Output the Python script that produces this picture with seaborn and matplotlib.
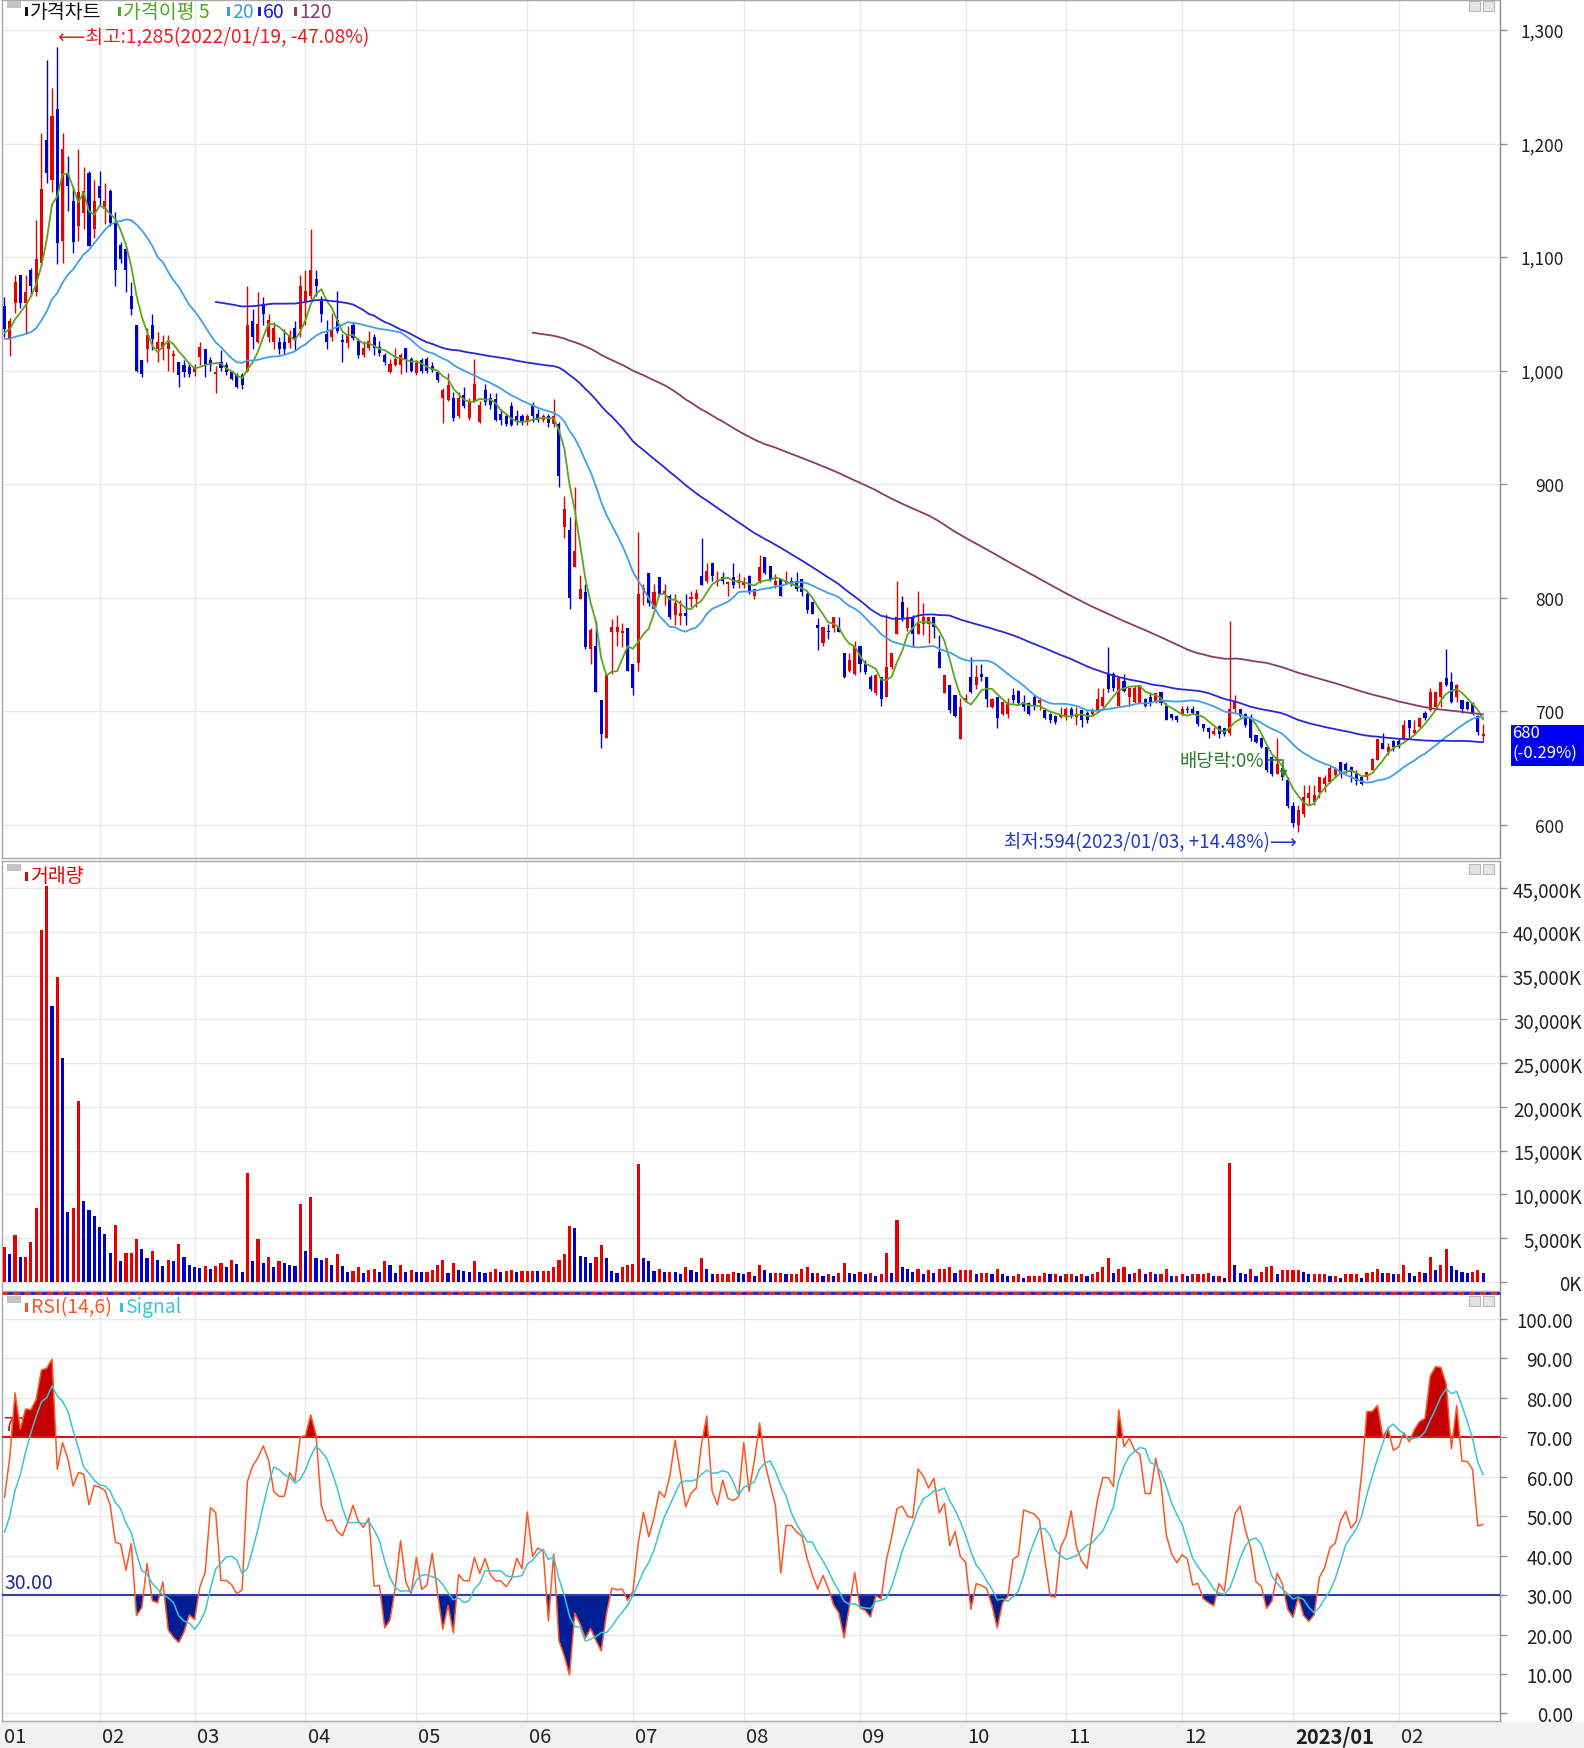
import numpy as np
import pandas as pd
import matplotlib
matplotlib.use("Agg")
import matplotlib.pyplot as plt
import matplotlib.transforms as mtransforms
from matplotlib.patches import Rectangle
import seaborn as sns

# ------------------------------------------------------------------ data
# closes of the 19 sessions before the visible window (estimated from the 20-day average)
prior_closes = [1045, 1040, 1038, 1042, 1041, 1030, 1022, 1015, 1010, 1005,
                1012, 1020, 1018, 1025, 1030, 1028, 1035, 1030, 1037]

opens = [
    1057, 1028, 1060, 1084, 1060, 1089, 1069, 1095, 1203, 1168, 1230, 1114, 1174, 1149, 1127, 1139, 1174, 1125, 1163, 1142,
    1158, 1130, 1111, 1107, 1066, 1040, 1009, 1019, 1040, 1019, 1019, 1019, 1013, 1008, 1005, 1003, 999, 1012, 1019, 1009,
    997, 1008, 1005, 999, 996, 996, 1000, 1044, 1025, 1059, 1030, 1025, 1025, 1025, 1024, 1038, 1037, 1060, 1066, 1081,
    1062, 1032, 1030, 1045, 1027, 1024, 1040, 1026, 1014, 1020, 1030, 1021, 1014, 999, 1005, 1005, 1020, 1010, 998, 1009,
    1010, 1004, 999, 976, 974, 976, 960, 979, 958, 973, 955, 983, 976, 975, 962, 960, 969, 960, 960, 956,
    970, 962, 957, 960, 953, 953, 862, 860, 827, 799, 805, 755, 758, 710, 677, 770, 770, 769, 773, 742,
    743, 807, 822, 790, 818, 803, 802, 785, 784, 787, 799, 799, 819, 815, 831, 814, 818, 812, 818, 813,
    811, 819, 802, 815, 836, 828, 811, 817, 812, 815, 815, 817, 803, 796, 776, 760, 771, 773, 774, 751,
    736, 733, 758, 742, 730, 716, 730, 713, 739, 768, 796, 773, 783, 768, 777, 777, 783, 752, 716, 723,
    714, 676, 710, 730, 723, 733, 730, 704, 713, 698, 698, 714, 718, 708, 707, 713, 707, 701, 698, 696,
    695, 696, 702, 695, 701, 699, 698, 701, 705, 733, 733, 705, 727, 713, 708, 707, 711, 713, 708, 717,
    705, 698, 696, 698, 702, 702, 700, 689, 685, 680, 687, 685, 681, 702, 702, 698, 693, 679, 677, 669,
    660, 645, 650, 640, 617, 600, 610, 624, 620, 629, 636, 638, 644, 655, 654, 651, 645, 642, 642, 648,
    657, 672, 664, 674, 674, 676, 692, 681, 686, 699, 701, 704, 713, 729, 726, 713, 710, 708, 707, 696, 678]

highs = [
    1065, 1046, 1084, 1084, 1084, 1090, 1133, 1209, 1274, 1249, 1285, 1209, 1189, 1163, 1195, 1179, 1176, 1168, 1176, 1165,
    1160, 1140, 1113, 1108, 1078, 1040, 1009, 1038, 1050, 1034, 1031, 1031, 1018, 1008, 1009, 1008, 1006, 1025, 1019, 1012,
    1004, 1018, 1008, 1000, 998, 998, 1075, 1054, 1069, 1065, 1050, 1043, 1030, 1037, 1036, 1044, 1084, 1089, 1125, 1089,
    1066, 1045, 1051, 1070, 1032, 1039, 1043, 1029, 1026, 1035, 1032, 1026, 1016, 1010, 1020, 1016, 1020, 1012, 1009, 1011,
    1012, 1008, 1000, 985, 998, 981, 981, 986, 976, 1010, 973, 988, 980, 980, 966, 962, 972, 965, 962, 962,
    972, 966, 962, 962, 975, 955, 890, 871, 898, 820, 812, 773, 780, 710, 732, 781, 785, 778, 773, 742,
    858, 812, 822, 812, 818, 812, 803, 803, 798, 803, 806, 808, 853, 831, 831, 824, 823, 815, 831, 822,
    818, 820, 808, 838, 836, 828, 821, 817, 824, 818, 823, 817, 805, 796, 782, 774, 777, 783, 783, 751,
    751, 762, 758, 745, 732, 733, 730, 786, 751, 815, 802, 792, 785, 806, 795, 783, 783, 767, 732, 723,
    714, 712, 715, 748, 741, 742, 730, 712, 713, 709, 712, 721, 719, 714, 708, 714, 713, 703, 699, 697,
    704, 704, 704, 704, 701, 700, 703, 721, 721, 757, 735, 729, 733, 721, 723, 723, 712, 717, 717, 717,
    707, 698, 697, 705, 705, 705, 700, 689, 686, 686, 688, 685, 780, 714, 702, 699, 698, 679, 677, 669,
    661, 677, 650, 642, 620, 618, 635, 635, 635, 642, 644, 653, 651, 655, 655, 652, 648, 642, 647, 659,
    676, 681, 672, 675, 676, 692, 692, 692, 695, 700, 721, 718, 726, 755, 735, 724, 710, 709, 708, 697, 689]

lows = [
    1030, 1013, 1051, 1055, 1032, 1066, 1066, 1092, 1165, 1157, 1094, 1095, 1141, 1104, 1114, 1125, 1110, 1117, 1145, 1129,
    1127, 1075, 1095, 1069, 1049, 999, 994, 1008, 1018, 1008, 1009, 1000, 999, 986, 994, 994, 995, 1005, 994, 1000,
    980, 1000, 996, 992, 985, 984, 999, 1019, 1024, 1040, 1025, 1019, 1015, 1015, 1020, 1018, 1030, 1040, 1063, 1066,
    1043, 1019, 1026, 1033, 1008, 1020, 1027, 1011, 1012, 1018, 1014, 1013, 1005, 998, 1004, 997, 999, 999, 996, 998,
    998, 999, 990, 954, 973, 956, 958, 967, 957, 972, 954, 970, 966, 956, 952, 951, 951, 952, 952, 952,
    955, 955, 955, 950, 950, 898, 853, 790, 827, 799, 755, 742, 717, 668, 677, 733, 758, 757, 736, 714,
    736, 794, 793, 790, 802, 794, 781, 776, 776, 776, 792, 792, 811, 813, 815, 810, 812, 802, 809, 809,
    809, 803, 799, 813, 821, 815, 809, 802, 812, 810, 806, 802, 787, 786, 754, 758, 764, 770, 770, 729,
    735, 732, 735, 733, 718, 714, 705, 713, 737, 768, 780, 771, 757, 768, 767, 760, 765, 738, 716, 699,
    695, 676, 708, 716, 720, 727, 704, 703, 685, 697, 694, 707, 706, 700, 697, 701, 701, 693, 690, 689,
    694, 692, 694, 688, 686, 690, 696, 700, 702, 717, 718, 705, 717, 705, 707, 707, 704, 705, 707, 706,
    692, 692, 691, 697, 699, 698, 687, 683, 677, 679, 677, 678, 679, 699, 695, 686, 674, 672, 668, 647,
    643, 645, 640, 615, 598, 594, 607, 618, 618, 624, 629, 637, 642, 641, 646, 638, 635, 635, 640, 648,
    657, 667, 662, 665, 668, 675, 676, 680, 685, 692, 700, 703, 704, 722, 707, 708, 699, 701, 697, 679, 674]

closes = [
    1037, 1044, 1078, 1060, 1069, 1075, 1098, 1160, 1174, 1224, 1112, 1195, 1163, 1113, 1157, 1158, 1110, 1149, 1152, 1149,
    1130, 1089, 1098, 1089, 1054, 1000, 997, 1031, 1028, 1025, 1025, 1024, 1015, 996, 999, 997, 1003, 1021, 1005, 1005,
    999, 1002, 999, 993, 986, 987, 1040, 1030, 1041, 1050, 1045, 1038, 1019, 1019, 1031, 1028, 1075, 1070, 1089, 1075,
    1050, 1025, 1037, 1035, 1025, 1032, 1029, 1014, 1020, 1026, 1020, 1016, 1008, 1006, 1010, 1014, 1010, 1000, 1007, 1000,
    1000, 1001, 992, 983, 987, 958, 976, 969, 973, 988, 970, 972, 970, 957, 957, 953, 952, 957, 955, 960,
    960, 957, 960, 954, 960, 907, 878, 800, 841, 808, 757, 772, 717, 680, 732, 774, 774, 771, 736, 721,
    803, 809, 795, 805, 803, 806, 783, 795, 787, 784, 801, 804, 811, 824, 819, 816, 815, 814, 811, 816,
    814, 805, 808, 827, 822, 817, 815, 802, 815, 812, 808, 805, 789, 786, 773, 774, 770, 783, 770, 730,
    745, 758, 742, 735, 720, 732, 711, 739, 751, 783, 782, 783, 768, 777, 783, 783, 774, 738, 732, 701,
    696, 704, 712, 717, 730, 730, 711, 711, 694, 708, 708, 710, 707, 704, 698, 705, 710, 694, 692, 691,
    698, 702, 696, 698, 692, 692, 701, 711, 713, 720, 721, 729, 718, 721, 721, 723, 705, 707, 716, 707,
    692, 694, 692, 702, 701, 699, 689, 685, 682, 683, 680, 680, 702, 708, 696, 688, 677, 673, 669, 648,
    645, 654, 642, 617, 602, 613, 625, 628, 626, 642, 641, 650, 650, 645, 648, 647, 639, 636, 647, 658,
    676, 667, 669, 669, 669, 688, 685, 684, 694, 694, 717, 717, 726, 723, 708, 723, 702, 702, 698, 682, 680]

volumes_k = [
    4033, 3174, 5414, 2875, 2875, 4555, 8401, 40216, 45181, 31552, 34800, 25578, 8028, 8401, 20649, 9223, 8215, 7543, 6236, 5526,
    3360, 6535, 2352, 3360, 3360, 4854, 3734, 2726, 3547, 2502, 1867, 2502, 2352, 4369, 2875, 1979, 1680, 1650, 1867, 1494,
    1867, 2166, 1680, 2502, 2054, 1195, 12434, 2352, 4854, 2166, 2875, 1680, 2352, 2166, 1979, 1867, 8887, 3547, 9708, 2726,
    2502, 2726, 1979, 3174, 1867, 1195, 1307, 1680, 1008, 1419, 1494, 1195, 2352, 1979, 1008, 1979, 1195, 1382, 1195, 1150,
    1195, 1382, 1979, 2502, 1008, 2166, 1382, 1300, 1195, 2352, 1195, 1008, 1195, 1494, 1195, 1250, 1382, 1195, 1250, 1250,
    1250, 1200, 1250, 1250, 1680, 2502, 3174, 6348, 6200, 3000, 2800, 2166, 2800, 4200, 2726, 1307, 1008, 1700, 1979, 2000,
    13442, 2726, 2352, 1300, 1494, 1195, 1195, 1120, 934, 1680, 1382, 1195, 2726, 1494, 859, 859, 859, 859, 1195, 1008,
    859, 1195, 635, 1979, 1382, 1000, 1008, 1008, 859, 859, 859, 1494, 1680, 1008, 1008, 635, 859, 635, 1008, 2166,
    1008, 859, 1195, 859, 1008, 635, 859, 3360, 1008, 7095, 1680, 1494, 1195, 1494, 859, 1382, 1008, 1494, 1494, 1680,
    1008, 1382, 1382, 1382, 859, 1008, 1008, 859, 1494, 859, 635, 635, 859, 448, 635, 635, 635, 1008, 859, 859,
    635, 859, 859, 635, 859, 635, 859, 1195, 1680, 2726, 1008, 1494, 1680, 859, 1008, 1494, 859, 1195, 859, 859,
    1494, 635, 635, 859, 635, 859, 859, 859, 1008, 635, 635, 448, 13629, 1979, 1008, 859, 1494, 635, 1195, 1680,
    1867, 859, 1382, 1382, 1382, 1382, 1195, 859, 859, 859, 859, 635, 635, 448, 859, 859, 859, 448, 1008, 1195,
    1494, 1008, 1008, 859, 859, 1979, 1008, 635, 1195, 1008, 2875, 1382, 1979, 3734, 1867, 1382, 1195, 1008, 1195, 1382, 1008]

month_labels = ["01", "02", "03", "04", "05", "06", "07", "08", "09", "10", "11", "12", "2023/01", "02"]
month_trading_days = [18, 18, 21, 21, 21, 20, 21, 22, 20, 19, 22, 21, 20, 17]   # visible sessions per month
price_ticks = [600, 700, 800, 900, 1000, 1100, 1200, 1300]
volume_ticks = [0, 5000, 10000, 15000, 20000, 25000, 30000, 35000, 40000, 45000]
rsi_ticks = [0, 10, 20, 30, 40, 50, 60, 70, 80, 90, 100]
ma_windows = [5, 20, 60, 120]
high_date = "2022/01/19"
low_date = "2023/01/03"
dividend_idx = 242

# ------------------------------------------------------------------ style
sns.set_theme(style="white")
plt.rcParams["font.family"] = ["Noto Sans CJK KR", "DejaVu Sans"]

RED, BLUE = "#e60000", "#0000cd"
MA_COLORS = {5: "#5aa818", 20: "#3fa0e8", 60: "#2828d8", 120: "#8a3a6c"}
GRID = "#e8e8e8"
SPINE = "#a8a8a8"

W, H = 1584, 1749
fig = plt.figure(figsize=(W / 100, H / 100), dpi=100)
fig.patch.set_facecolor("white")


def add_ax(l, t, r, b):
    return fig.add_axes([l / W, 1 - b / H, (r - l) / W, (b - t) / H])


ax1 = add_ax(2, 1, 1500, 859)
ax2 = add_ax(2, 862, 1500, 1292)
ax3 = add_ax(2, 1294, 1500, 1722)

n = len(closes)
x = np.arange(n)
O, Hh, L, C = map(np.asarray, (opens, highs, lows, closes))
V = np.asarray(volumes_k, dtype=float)

full_close = pd.Series(prior_closes + closes, dtype=float)
k0 = len(prior_closes)

month_starts = np.concatenate([[0], np.cumsum(month_trading_days)[:-1]])
xlim = (-0.47, 283.2)

# ------------------------------------------------------------------ price panel
up = C >= O
ccol = np.where(up, RED, BLUE)
ax1.vlines(x, L, Hh, colors=ccol, linewidth=1.0, zorder=3)
body = np.maximum(np.abs(C - O), 0.9)
ax1.bar(x, body, bottom=np.minimum(O, C), width=0.58, color=ccol, linewidth=0, zorder=4)

for w in ma_windows:
    ma = full_close.rolling(w).mean().iloc[k0:].to_numpy()
    m = ~np.isnan(ma)
    sns.lineplot(x=x[m], y=ma[m], ax=ax1, color=MA_COLORS[w], linewidth=1.3,
                 legend=False, zorder=5)

ax1.set_ylim(570.9, 1326.4)

# annotations
i_hi = int(np.argmax(Hh))
i_lo = int(np.argmin(L))
last = C[-1]
pct_hi = (last / Hh[i_hi] - 1) * 100
pct_lo = (last / L[i_lo] - 1) * 100
ax1.text(i_hi + 0.1, Hh[i_hi] + 9.5, f"\u27f5최고:{Hh[i_hi]:,}({high_date}, {pct_hi:.2f}%)",
         color="#ee1c24", fontsize=13.8, ha="left", va="center", zorder=6)
ax1.text(i_lo - 0.2, L[i_lo] - 9, f"최저:{L[i_lo]}({low_date}, {pct_lo:+.2f}%)\u27f6",
         color="#1e3cc8", fontsize=13.5, ha="right", va="center", zorder=6)

dv = C[dividend_idx]
ax1.text(dividend_idx - 3.4, dv + 15, "배당락:0%", color="#2a7a2a", fontsize=13.5,
         ha="right", va="center", zorder=6)
ax1.plot([dividend_idx - 2.8, dividend_idx + 0.1, dividend_idx + 0.1],
         [dv + 15, dv + 15, dv + 5], color="#2a8a2a", linewidth=1.2, zorder=6)
ax1.plot([dividend_idx + 0.1], [dv + 4], marker="v", markersize=5, color="#2a8a2a", zorder=6)

# last price tag
prev = C[-2]
chg = (last / prev - 1) * 100
tag_tr = mtransforms.blended_transform_factory(ax1.transAxes, ax1.transData)
x0 = (1511 - 2) / 1498
ax1.add_patch(Rectangle((x0, last - 28.5), (1584 - 1511) / 1498, 36.5, transform=tag_tr,
                        facecolor="#0000f0", edgecolor="none", clip_on=False, zorder=10))
ax1.text(x0 + 0.001, last + 1, f"{last}", transform=tag_tr, color="white", fontsize=12,
         ha="left", va="center", clip_on=False, zorder=11)
ax1.text(x0 + 0.001, last - 16, f"({chg:.2f}%)", transform=tag_tr, color="white", fontsize=12,
         ha="left", va="center", clip_on=False, zorder=11)

# ------------------------------------------------------------------ volume panel
vcol = np.where(np.concatenate([[True], V[1:] >= V[:-1]]), RED, BLUE)
ax2.bar(x, V, width=0.6, color=vcol, linewidth=0, zorder=3)
ax2.set_ylim(-1028, 48083)

# ------------------------------------------------------------------ RSI panel
delta = full_close.diff()
gain = delta.clip(lower=0).rolling(14).mean()
loss = (-delta.clip(upper=0)).rolling(14).mean()
rsi_full = 100 * gain / (gain + loss)
sig_full = rsi_full.rolling(6).mean()
rsi = rsi_full.iloc[k0:].to_numpy()
sig = sig_full.iloc[k0:].to_numpy()

ax3.text(0.0, 70.6, "70.00", color="#d01010", fontsize=14, ha="left", va="bottom", zorder=2)
ax3.text(0.0, 30.6, "30.00", color="#1c2c9c", fontsize=14, ha="left", va="bottom", zorder=2)
ax3.fill_between(x, rsi, 70, where=rsi >= 70, interpolate=True, color="#c40000", linewidth=0, zorder=3)
ax3.fill_between(x, rsi, 30, where=rsi <= 30, interpolate=True, color="#001e96", linewidth=0, zorder=3)
ax3.axhline(70, color="#d81818", linewidth=1.5, zorder=4)
ax3.axhline(30, color="#3040a8", linewidth=1.5, zorder=4)
sns.lineplot(x=x, y=rsi, ax=ax3, color="#ff5522", linewidth=1.1, legend=False, zorder=5)
sns.lineplot(x=x, y=sig, ax=ax3, color="#3cc4d4", linewidth=1.1, legend=False, zorder=6)
ax3.set_ylim(-1.9, 106.5)

# dotted separator on top of RSI panel
ax3.plot([0, 1], [1, 1], transform=ax3.transAxes, color="#e02020", linewidth=2,
         linestyle=(0, (2, 2)), clip_on=False, zorder=12)
ax3.plot([0, 1], [1, 1], transform=ax3.transAxes, color="#2020d0", linewidth=2,
         linestyle=(2, (2, 2)), clip_on=False, zorder=12)

# ------------------------------------------------------------------ common axis styling
panels = [
    (ax1, price_ticks, [f"{v:,}" for v in price_ticks], 41, 12.5),
    (ax2, volume_ticks, [f"{v:,}K" for v in volume_ticks], 54, 13.5),
    (ax3, rsi_ticks, [f"{v:.2f}" for v in rsi_ticks], 47.5, 13.5),
]
for ax, ticks, labels, pad, fs in panels:
    ax.set_xlim(*xlim)
    ax.set_xlabel("")
    ax.set_ylabel("")
    ax.set_facecolor("white")
    ax.yaxis.tick_right()
    ax.set_yticks(ticks, labels=labels)
    ax.tick_params(axis="y", which="major", direction="out", length=5, width=1,
                   color="#909090", pad=pad, labelsize=fs, labelcolor="#202020",
                   right=True, left=False)
    for t in ax.get_yticklabels():
        t.set_horizontalalignment("right")
    ax.set_xticks(month_starts[1:])
    ax.tick_params(axis="x", length=0, labelbottom=False)
    ax.grid(True, color=GRID, linewidth=1.0, zorder=0)
    ax.set_axisbelow(True)
    for s in ax.spines.values():
        s.set_color(SPINE)
        s.set_linewidth(1.0)
    ax.spines["right"].set_color("#8c8c8c")

# month labels under the RSI panel
lab_tr = mtransforms.blended_transform_factory(ax3.transData, ax3.transAxes)
for i, (pos, lab) in enumerate(zip(month_starts, month_labels)):
    xp = -0.1 if i == 0 else pos + 0.4
    ax3.text(xp, -0.036, lab, transform=lab_tr, ha="left", va="center",
             fontsize=14.5, color="#202020",
             fontweight="bold" if lab.startswith("2023") else "normal", clip_on=False)

# bottom strip
fig.patches.append(Rectangle((0, 0), 1, (H - 1723) / H, transform=fig.transFigure,
                             facecolor="#f1f1f1", edgecolor="none", zorder=-5))

# ------------------------------------------------------------------ legends / chrome


def fx(px):
    return px / W


def fy(py):
    return 1 - py / H


def marker(px, py, color, h=9):
    fig.patches.append(Rectangle((fx(px), fy(py + h / 2)), 3 / W, h / H, transform=fig.transFigure,
                                 facecolor=color, edgecolor="none", zorder=20))


def chrome(py):
    fig.patches.append(Rectangle((fx(7), fy(py + 7)), 14 / W, 7 / H, transform=fig.transFigure,
                                 facecolor="#c4c4c4", edgecolor="none", zorder=20))
    for bx in (1469, 1483):
        fig.patches.append(Rectangle((fx(bx), fy(py + 10)), 11 / W, 10 / H, transform=fig.transFigure,
                                     facecolor="#e4e4e4", edgecolor="#b8b8b8", linewidth=0.8, zorder=20))


chrome(2)
chrome(865)
chrome(1297)

leg_y = 12
items = [(25, "가격차트", "#111111"), (118, "가격이평 5", "#4fa81e"), (227, "20", "#3c9be0"),
         (258, "60", "#1a1ad2"), (294, "120", "#8c3c6e")]
for px, txt, col in items:
    marker(px, leg_y, col)
    fig.text(fx(px + 5), fy(leg_y), txt, color=col, fontsize=14, ha="left", va="center")

marker(25, 877, "#e60000")
fig.text(fx(30), fy(877), "거래량", color="#e60000", fontsize=14, ha="left", va="center")

marker(25, 1308, "#ff5522")
fig.text(fx(31), fy(1308), "RSI(14,6)", color="#ff5522", fontsize=14, ha="left", va="center")
marker(120, 1308, "#3cc4d4")
fig.text(fx(125), fy(1308), "Signal", color="#3cc4d4", fontsize=14, ha="left", va="center")

fig.savefig("out.png", dpi=100, facecolor="white")
